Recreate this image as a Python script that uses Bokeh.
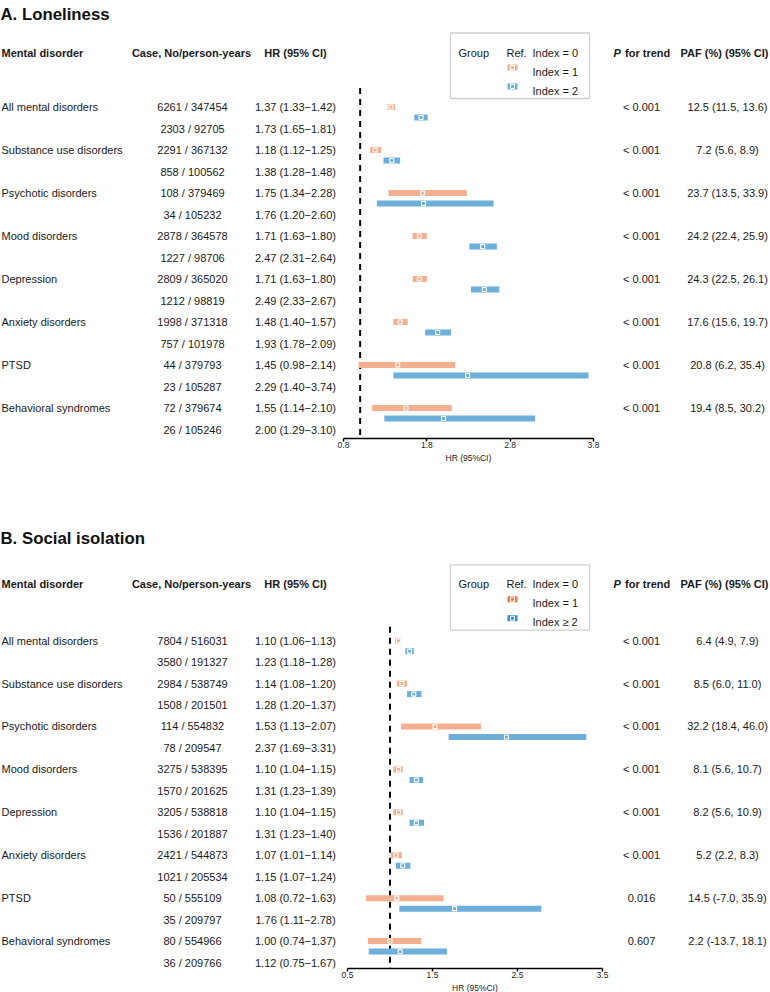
import numpy as np
from bokeh.plotting import figure
from bokeh.models import Range1d, FixedTicker, ColumnDataSource, Title
from bokeh.layouts import column
from bokeh.core.properties import value
from bokeh.embed import file_html
from bokeh.resources import INLINE

# ---------------- DATA ----------------
disorders = ["All mental disorders", "Substance use disorders", "Psychotic disorders",
             "Mood disorders", "Depression", "Anxiety disorders", "PTSD", "Behavioral syndromes"]

# Panel A: Loneliness
a_cases_1 = ["6261 / 347454", "2291 / 367132", "108 / 379469", "2878 / 364578",
             "2809 / 365020", "1998 / 371318", "44 / 379793", "72 / 379674"]
a_cases_2 = ["2303 / 92705", "858 / 100562", "34 / 105232", "1227 / 98706",
             "1212 / 98819", "757 / 101978", "23 / 105287", "26 / 105246"]
a_hr_1 = [1.37, 1.18, 1.75, 1.71, 1.71, 1.48, 1.45, 1.55]
a_lo_1 = [1.33, 1.12, 1.34, 1.63, 1.63, 1.40, 0.98, 1.14]
a_hi_1 = [1.42, 1.25, 2.28, 1.80, 1.80, 1.57, 2.14, 2.10]
a_hr_2 = [1.73, 1.38, 1.76, 2.47, 2.49, 1.93, 2.29, 2.00]
a_lo_2 = [1.65, 1.28, 1.20, 2.31, 2.33, 1.78, 1.40, 1.29]
a_hi_2 = [1.81, 1.48, 2.60, 2.64, 2.67, 2.09, 3.74, 3.10]
a_p = ["< 0.001"] * 8
a_paf = ["12.5 (11.5, 13.6)", "7.2 (5.6, 8.9)", "23.7 (13.5, 33.9)", "24.2 (22.4, 25.9)",
         "24.3 (22.5, 26.1)", "17.6 (15.6, 19.7)", "20.8 (6.2, 35.4)", "19.4 (8.5, 30.2)"]
a_ticks = [0.8, 1.8, 2.8, 3.8]
a_legend = ["Index = 0", "Index = 1", "Index = 2"]

# Panel B: Social isolation
b_cases_1 = ["7804 / 516031", "2984 / 538749", "114 / 554832", "3275 / 538395",
             "3205 / 538818", "2421 / 544873", "50 / 555109", "80 / 554966"]
b_cases_2 = ["3580 / 191327", "1508 / 201501", "78 / 209547", "1570 / 201625",
             "1536 / 201887", "1021 / 205534", "35 / 209797", "36 / 209766"]
b_hr_1 = [1.10, 1.14, 1.53, 1.10, 1.10, 1.07, 1.08, 1.00]
b_lo_1 = [1.06, 1.08, 1.13, 1.04, 1.04, 1.01, 0.72, 0.74]
b_hi_1 = [1.13, 1.20, 2.07, 1.15, 1.15, 1.14, 1.63, 1.37]
b_hr_2 = [1.23, 1.28, 2.37, 1.31, 1.31, 1.15, 1.76, 1.12]
b_lo_2 = [1.18, 1.20, 1.69, 1.23, 1.23, 1.07, 1.11, 0.75]
b_hi_2 = [1.28, 1.37, 3.31, 1.39, 1.40, 1.24, 2.78, 1.67]
b_p = ["< 0.001"] * 6 + ["0.016", "0.607"]
b_paf = ["6.4 (4.9, 7.9)", "8.5 (6.0, 11.0)", "32.2 (18.4, 46.0)", "8.1 (5.6, 10.7)",
         "8.2 (5.6, 10.9)", "5.2 (2.2, 8.3)", "14.5 (-7.0, 35.9)", "2.2 (-13.7, 18.1)"]
b_ticks = [0.5, 1.5, 2.5, 3.5]
b_legend = ["Index = 0", "Index = 1", "Index \u2265 2"]

x_title = "HR (95%CI)"

# ---------------- STYLE ----------------
FONT = value("Liberation Sans")
BAR_OR = "#F3B090"
BAR_BL = "#6BAFDA"


def hr_text(hr, lo, hi):
    return [f"{h:.2f} ({l:.2f}\u2212{u:.2f})" for h, l, u in zip(hr, lo, hi)]


def make_panel(title, cases1, cases2, hr1, lo1, hi1, hr2, lo2, hi2, pvals, pafs,
               ticks, legend_labels, legend_colors, L):
    H, FH = L["height"], L["frame_h"]
    x0px, ppu, t0 = L["x0px"], L["ppu"], ticks[0]

    def px2x(px):
        return t0 + (px - x0px) / ppu

    p = figure(width=770, height=H, x_range=Range1d(px2x(0), px2x(770)),
               y_range=Range1d(FH, 0), output_backend="svg", toolbar_location=None,
               y_axis_location=None, min_border_left=0, min_border_right=0,
               min_border_top=0, min_border_bottom=H - FH)
    p.outline_line_color = None
    p.grid.visible = False
    p.background_fill_color = "white"
    p.border_fill_color = "white"

    ax = p.xaxis[0]
    ax.ticker = FixedTicker(ticks=ticks)
    ax.bounds = (ticks[0], ticks[-1])
    ax.axis_line_width = 1.4
    ax.axis_line_color = "black"
    ax.major_tick_line_width = 1.4
    ax.major_tick_line_color = "black"
    ax.major_tick_out = 3
    ax.major_tick_in = 0
    ax.minor_tick_line_color = None
    ax.major_label_standoff = 0
    ax.major_label_text_font_size = "8.5px"
    ax.major_label_text_font = "Liberation Sans"
    ax.major_label_text_color = "#222222"

    # axis title centred under the bounded axis
    centre_px = x0px + (ticks[-1] - ticks[0]) / 2 * ppu
    label_w = 46
    p.add_layout(Title(text=x_title, align="left", offset=centre_px - label_w / 2,
                       text_font_size="8.5px", text_font="Liberation Sans",
                       text_font_style="normal", text_color="#222222", standoff=0),
                 "below")

    n = len(disorders)
    g = np.arange(n)
    base = L["row_base"] + L["gap"] * g
    y_or = base
    y_bl = base + L["gap"] * 0.245
    y_r2 = base + L["gap"] * 0.5

    # reference dashed line
    p.segment(x0=[1.0], x1=[1.0], y0=[L["row_base"] - L["dash_pad"]], y1=[FH],
              line_color="black", line_width=2, line_dash="6 5")

    # bars
    bsrc = ColumnDataSource(dict(y=np.concatenate([y_or, y_bl]),
                                 left=lo1 + lo2, right=hi1 + hi2, hr=hr1 + hr2,
                                 color=[BAR_OR] * n + [BAR_BL] * n))
    p.hbar(y="y", left="left", right="right", height=6, fill_color="color",
           line_color=None, source=bsrc)
    p.scatter(x="hr", y="y", source=bsrc, marker="square", size=4,
              fill_color="color", line_color="white", line_width=1.1)

    def txt(x, y, t, align="left", size="11px", style="normal", color="#1a1a1a"):
        src = ColumnDataSource(dict(x=x, y=y, t=t))
        p.text(x="x", y="y", text="t", source=src, text_font=FONT,
               text_font_size=size, text_font_style=style, text_align=align,
               text_baseline="alphabetic", text_color=color)

    # title and headers
    txt([px2x(0)], [L["title_base"]], [title], size="16.8px", style="bold", color="#111111")
    hb = L["header_base"]
    txt([px2x(1)], [hb], ["Mental disorder"], style="bold")
    txt([px2x(191)], [hb], ["Case, No/person-years"], align="center", style="bold")
    txt([px2x(295)], [hb], ["HR (95% CI)"], align="center", style="bold")
    txt([px2x(613)], [hb], ["P"], style="bold italic")
    txt([px2x(624.5)], [hb], ["for trend"], style="bold")
    txt([px2x(724)], [hb], ["PAF (%) (95% CI)"], align="center", style="bold")

    # table rows
    txt([px2x(1)] * n, list(y_or), disorders)
    txt([px2x(192)] * n, list(y_or), cases1, align="center")
    txt([px2x(192)] * n, list(y_r2), cases2, align="center")
    txt([px2x(295)] * n, list(y_or), hr_text(hr1, lo1, hi1), align="center")
    txt([px2x(295)] * n, list(y_r2), hr_text(hr2, lo2, hi2), align="center")
    txt([px2x(641)] * n, list(y_or), pvals, align="center")
    txt([px2x(727)] * n, list(y_or), pafs, align="center")

    # legend box
    p.quad(left=[px2x(450)], right=[px2x(589)], top=[hb - 19.5], bottom=[hb + 46],
           fill_color=None, line_color="#d0d0d0", line_width=1.3)
    ly = [hb + 19 * k for k in range(3)]
    txt([px2x(458)], [hb], ["Group"])
    txt([px2x(506)], [hb], ["Ref."])
    txt([px2x(532)] * 3, ly, legend_labels)
    sy = [ly[1] - 4, ly[2] - 4]
    lsrc = ColumnDataSource(dict(x=[px2x(512)] * 2, y=sy, c=legend_colors))
    p.rect(x="x", y="y", width=10 / ppu, height=6, fill_color="c", line_color=None,
           source=lsrc)
    p.scatter(x="x", y="y", source=lsrc, marker="square", size=4, fill_color="c",
              line_color="white", line_width=1.1)
    return p


LA = dict(height=470, frame_h=438, title_base=13.5, header_base=52, row_base=106.5,
          gap=43, x0px=343, ppu=83.33, dash_pad=19)
LB = dict(height=522, frame_h=499, title_base=68, header_base=114, row_base=170.5,
          gap=43, x0px=347, ppu=85.0, dash_pad=14)

pA = make_panel("A. Loneliness", a_cases_1, a_cases_2, a_hr_1, a_lo_1, a_hi_1,
                a_hr_2, a_lo_2, a_hi_2, a_p, a_paf, a_ticks, a_legend,
                [BAR_OR, BAR_BL], LA)
pB = make_panel("B. Social isolation", b_cases_1, b_cases_2, b_hr_1, b_lo_1, b_hi_1,
                b_hr_2, b_lo_2, b_hi_2, b_p, b_paf, b_ticks, b_legend,
                ["#E9773F", "#2F8CCB"], LB)

layout = column(pA, pB, spacing=0)
open("out.html", "w").write(file_html(layout, INLINE))
